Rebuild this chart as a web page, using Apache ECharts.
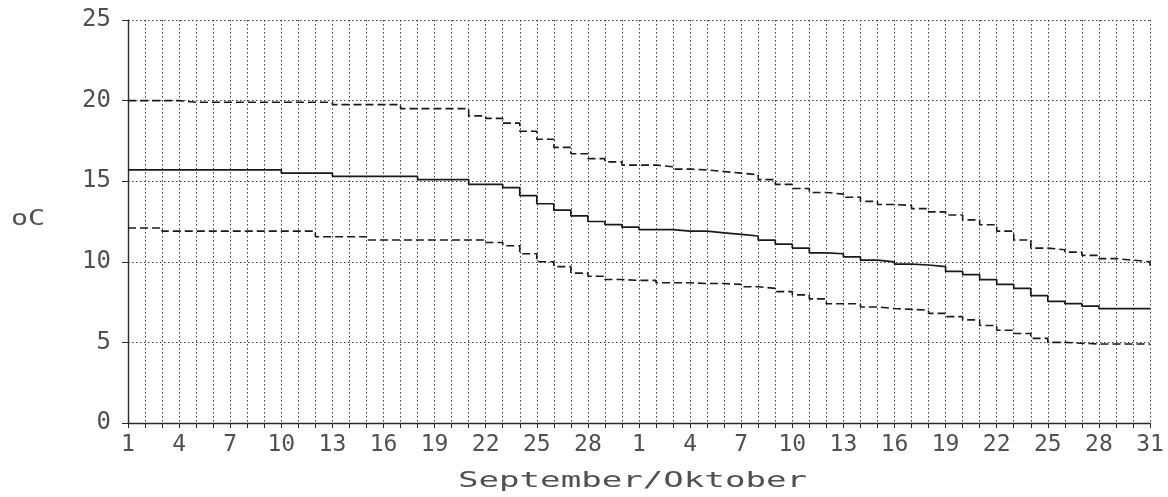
<!DOCTYPE html>
<html>
<head>
<meta charset="utf-8">
<script src="https://cdn.jsdelivr.net/npm/echarts@6/dist/echarts.min.js"></script>
<style>
html,body{margin:0;padding:0;background:#fff;}
#chart{width:1168px;height:497px;}
</style>
</head>
<body>
<div id="chart"></div>
<script>
// Day-of-month categories: 1 Sept .. 30 Sept, 1 Oct .. 31 Oct
const days = [1,2,3,4,5,6,7,8,9,10,11,12,13,14,15,16,17,18,19,20,21,22,23,24,25,26,27,28,29,30,
              1,2,3,4,5,6,7,8,9,10,11,12,13,14,15,16,17,18,19,20,21,22,23,24,25,26,27,28,29,30,31];
const yTicks = [0, 5, 10, 15, 20, 25];

const maxTemp = [20.0,20.0,20.0,19.9,19.9,19.9,19.9,19.9,19.9,19.9,19.9,19.9,19.75,19.75,19.75,19.75,
  19.5,19.5,19.5,19.5,19.05,18.9,18.6,18.1,17.6,17.1,16.7,16.4,16.2,16.0,16.0,15.9,15.75,15.7,15.6,15.5,
  15.4,15.1,14.8,14.55,14.3,14.2,14.0,13.75,13.55,13.5,13.3,13.1,12.9,12.6,12.3,11.9,11.35,10.85,10.75,
  10.6,10.4,10.2,10.1,10.0,9.75];
const meanTemp = [15.7,15.7,15.7,15.7,15.7,15.7,15.7,15.7,15.7,15.5,15.5,15.5,15.3,15.3,15.3,15.3,15.3,
  15.1,15.1,15.1,14.8,14.8,14.6,14.1,13.6,13.2,12.85,12.5,12.3,12.15,12.0,12.0,11.9,11.9,11.8,11.7,11.6,
  11.35,11.1,10.85,10.55,10.5,10.3,10.1,10.0,9.85,9.8,9.7,9.4,9.2,8.9,8.6,8.35,7.9,7.55,7.4,7.25,7.1,7.1,
  7.1,7.1];
const minTemp = [12.1,12.1,11.9,11.9,11.9,11.9,11.9,11.9,11.9,11.9,11.9,11.55,11.55,11.55,11.35,11.35,
  11.35,11.35,11.35,11.35,11.35,11.2,11.0,10.5,10.0,9.7,9.3,9.1,8.9,8.85,8.85,8.7,8.7,8.65,8.65,8.6,8.45,
  8.35,8.15,7.95,7.7,7.4,7.4,7.2,7.1,7.05,7.0,6.8,6.6,6.4,6.05,5.75,5.55,5.25,5.0,4.95,4.9,4.9,4.9,4.9,4.9];

const FONT = '"DejaVu Sans Mono", "Liberation Mono", monospace';
const textColor = '#505050';
const lineColor = '#1a1a1a';
const gridDots = {color: '#3a3a3a', width: 1, type: [1.5, 2.5]};

const chart = echarts.init(document.getElementById('chart'), null, {renderer: 'canvas'});
chart.setOption({
  animation: false,
  backgroundColor: '#fff',
  grid: {left: 128, right: 18, top: 20, bottom: 74, containLabel: false},
  xAxis: {
    type: 'category',
    data: days.map(String),
    boundaryGap: false,
    axisLine: {show: true, lineStyle: {color: '#2a2a2a', width: 1.4}},
    axisTick: {show: true, interval: 0, length: 5, lineStyle: {color: '#2a2a2a'}},
    axisLabel: {
      interval: 2, color: textColor, fontFamily: FONT, fontSize: 23, margin: 11
    },
    splitLine: {show: true, interval: 0, lineStyle: gridDots}
  },
  yAxis: {
    type: 'value',
    min: yTicks[0], max: yTicks[yTicks.length - 1], interval: 5,
    axisLine: {show: true, lineStyle: {color: '#2a2a2a', width: 1.4}},
    axisTick: {show: true, length: 6, lineStyle: {color: '#2a2a2a'}},
    axisLabel: {color: textColor, fontFamily: FONT, fontSize: 24, margin: 17},
    splitLine: {show: true, lineStyle: gridDots}
  },
  graphic: [
    {type: 'text', x: 11, y: 209, scaleX: 1.35, style: {text: 'oC', font: '21px ' + FONT, fill: textColor}},
    {type: 'text', x: 458, y: 470, scaleX: 1.55,
     style: {text: 'September/Oktober', font: '22px ' + FONT, fill: textColor}}
  ],
  series: [
    {name: 'Max', type: 'line', data: maxTemp, step: 'end', symbol: 'none',
     lineStyle: {color: lineColor, width: 1.6, type: [8, 4]}},
    {name: 'Gemiddeld', type: 'line', data: meanTemp, step: 'end', symbol: 'none',
     lineStyle: {color: lineColor, width: 1.7, type: 'solid'}},
    {name: 'Min', type: 'line', data: minTemp, step: 'end', symbol: 'none',
     lineStyle: {color: lineColor, width: 1.6, type: [8, 4]}}
  ]
});
</script>
</body>
</html>
